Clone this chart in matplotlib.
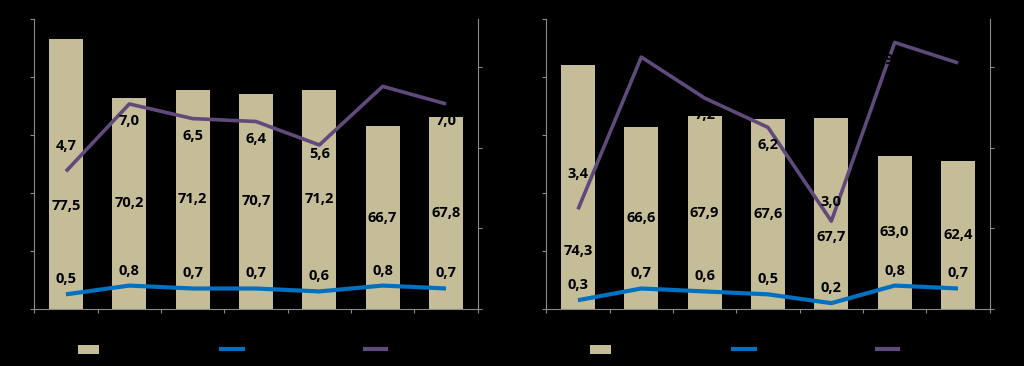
import matplotlib
matplotlib.use("Agg")
import matplotlib.pyplot as plt
from matplotlib.patches import Patch
from matplotlib.lines import Line2D
import numpy as np

# ---- data ----
categories = ["1", "2", "3", "4", "5", "6", "7"]
bars_left = [77.5, 70.2, 71.2, 70.7, 71.2, 66.7, 67.8]
blue_left = [0.5, 0.8, 0.7, 0.7, 0.6, 0.8, 0.7]
purple_left = [4.7, 7.0, 6.5, 6.4, 5.6, 7.6, 7.0]

bars_right = [74.3, 66.6, 67.9, 67.6, 67.7, 63.0, 62.4]
blue_right = [0.3, 0.7, 0.6, 0.5, 0.2, 0.8, 0.7]
purple_right = [3.4, 8.6, 7.2, 6.2, 3.0, 9.1, 8.4]

# label placement (style, not data)
bar_label_override_left = {0: 56.8}
bar_label_override_right = {0: 51.2, 4: 53.0}
purple_off_left = [25, -17, -17, -17.5, -9, -17, -17]      # pixels
purple_off_right = [35, 17, -17, -18, 19, -18, -17]
blue_off = 15

BAR = "#C4BD97"
BLUE = "#0070C0"
PURPLE = "#604A7B"
GRID = "#8C8C8C"
FONT = "Open Sans"

W, H = 1024, 366
fig = plt.figure(figsize=(W / 100, H / 100), dpi=100, facecolor="black")


def fmt(v):
    return f"{v:.1f}".replace(".", ",")


def panel(x0px, bars, blue, purple, overrides, poff):
    left = x0px / W
    bottom = 1 - 309 / H
    width = (477.7 - 34.3) / W
    height = (309 - 19) / H
    ax = fig.add_axes([left, bottom, width, height])
    ax.set_facecolor("none")
    x = np.arange(len(categories))
    ax.bar(x, [b - 44 for b in bars], bottom=44, width=0.54, color=BAR, zorder=2)
    ax.set_xlim(-0.5, len(categories) - 0.5)
    ax.set_ylim(44, 80)
    ax.set_yticks(np.arange(44, 80.01, 7.2))
    ax.set_xticks(np.arange(-0.5, len(categories), 1.0))
    ax.tick_params(axis="both", colors=GRID, length=3, width=0.8,
                   labelleft=False, labelbottom=False, direction="out")
    for s in ["top", "right"]:
        ax.spines[s].set_visible(False)
    for s in ["left", "bottom"]:
        ax.spines[s].set_color(GRID)
        ax.spines[s].set_linewidth(0.8)

    ax2 = ax.twinx()
    ax2.set_ylim(0, 9.9)
    ax2.set_yticks([0, 2.75, 5.5, 8.25])
    ax2.tick_params(axis="y", colors=GRID, length=3, width=0.8,
                    labelright=False, direction="out")
    for s in ["top", "left", "bottom"]:
        ax2.spines[s].set_visible(False)
    ax2.spines["right"].set_color(GRID)
    ax2.spines["right"].set_linewidth(0.8)
    ax2.plot(x, blue, color=BLUE, lw=3.0, solid_capstyle="butt", zorder=3)
    ax2.plot(x, purple, color=PURPLE, lw=2.6, solid_capstyle="butt", zorder=3)

    tk = dict(ha="center", va="center", fontsize=10.5, fontweight="bold",
              family=FONT, color="black", zorder=5)
    for i, b in enumerate(bars):
        yy = overrides.get(i, (44 + b) / 2)
        ax2.text(i, yy, fmt(b), transform=ax.transData, **tk)
    for i, v in enumerate(blue):
        ax2.annotate(fmt(v), (i, v), xytext=(0, blue_off * 0.72),
                     textcoords="offset points", **tk)
    for i, v in enumerate(purple):
        ax2.annotate(fmt(v), (i, v), xytext=(0, poff[i] * 0.72),
                     textcoords="offset points", **tk)

    handles = [Patch(facecolor=BAR, edgecolor="none"),
               Line2D([], [], color=BLUE, lw=3.0),
               Line2D([], [], color=PURPLE, lw=3.0)]
    fig.legend(handles, ["", "", ""], ncol=3, loc="center left",
               bbox_to_anchor=((x0px + 43.4) / W, 1 - 350 / H),
               frameon=False, fontsize=9, borderpad=0, borderaxespad=0,
               handlelength=1.7, handletextpad=0.0, columnspacing=9.8,
               handleheight=0.7)
    return ax, ax2


panel(34.3, bars_left, blue_left, purple_left, bar_label_override_left, purple_off_left)
panel(546.3, bars_right, blue_right, purple_right, bar_label_override_right, purple_off_right)

fig.savefig("out.png", dpi=100, facecolor="black")
